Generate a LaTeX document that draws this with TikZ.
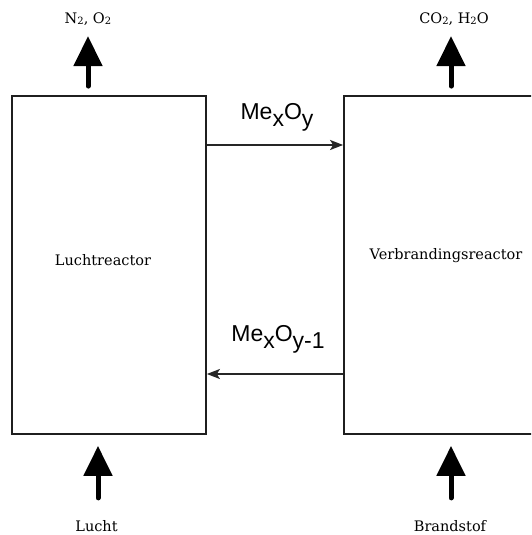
\documentclass[tikz,border=0pt]{standalone}
\usepackage{fontspec}
\setmainfont{DejaVu Serif}
\newfontfamily\arialfont{Liberation Sans}
\usetikzlibrary{arrows.meta}
\newcommand{\lowtwo}{{\fontsize{10}{10}\selectfont\raisebox{-0.5pt}{2}}}
\newcommand{\chemsub}[1]{\raisebox{-7pt}{#1}}
\tikzset{
  reactor/.style={draw=black!88, line width=1.8pt, minimum height=338pt, inner sep=0pt},
  flow/.style={draw=black!85, line width=1.5pt, -{Stealth[length=13pt,width=10pt,inset=3pt]}},
  bigarrow/.style={draw=black, line width=5pt, line cap=round, -{Triangle[length=30pt,width=28pt]}},
  lbl/.style={font=\fontsize{14.5}{16}\selectfont, inner sep=0pt},
  chem/.style={font=\arialfont\fontsize{23}{26}\selectfont, inner sep=0pt},
}
\begin{document}
\begin{tikzpicture}[x=1pt,y=1pt]
\useasboundingbox (0,0) rectangle (531,535);
\clip (0,0) rectangle (531,535);
\fill[white] (0,0) rectangle (531,535);
% reactors
\node[reactor, minimum width=194pt] (L) at (109,270) {};
\node[reactor, minimum width=190pt] (R) at (439,270) {};
\node[lbl] (Ltxt) at (103,274.5) {Luchtreactor};
\node[lbl] (Rtxt) at (446,279.5) {Verbrandingsreactor};
% exchange arrows
\draw[flow] ([yshift=120pt]L.east) -- ([yshift=120pt]R.west);
\draw[flow] ([yshift=-109pt]R.west) -- ([yshift=-109pt]L.east);
\node[chem, anchor=base] (m1) at (277,415) {Me\chemsub{x}O\chemsub{y}};
\node[chem, anchor=base] (m2) at (278,193) {Me\chemsub{x}O\chemsub{y-1}};
% outputs
\node[lbl, anchor=base] (out1) at (88,511) {N\lowtwo, O\lowtwo};
\node[lbl, anchor=base] (out2) at (454,511) {CO\lowtwo, H\lowtwo O};
\draw[bigarrow] ([xshift=-21pt,yshift=9pt]L.north) -- ([xshift=-21pt,yshift=59pt]L.north);
\draw[bigarrow] ([xshift=12pt,yshift=9pt]R.north) -- ([xshift=12pt,yshift=59pt]R.north);
% inputs
\node[lbl, anchor=base] (in1) at (96.5,3) {Lucht};
\node[lbl, anchor=base] (in2) at (450,3) {Brandstof};
\draw[bigarrow] ([xshift=-11pt,yshift=-63pt]L.south) -- ([xshift=-11pt,yshift=-11pt]L.south);
\draw[bigarrow] ([xshift=12pt,yshift=-63pt]R.south) -- ([xshift=12pt,yshift=-11pt]R.south);
\end{tikzpicture}
\end{document}
